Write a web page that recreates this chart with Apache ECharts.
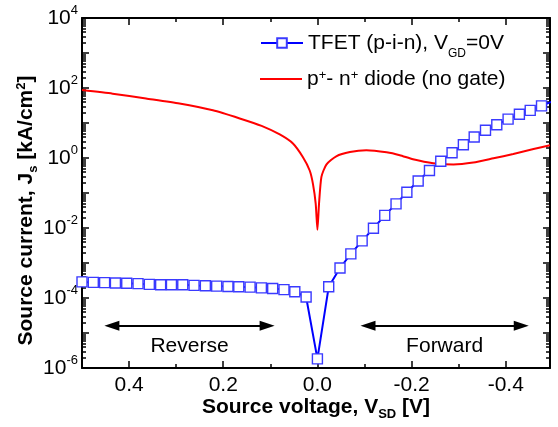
<!DOCTYPE html>
<html><head><meta charset="utf-8">
<script src="https://cdn.jsdelivr.net/npm/echarts@6/dist/echarts.min.js"></script>
<style>html,body{margin:0;padding:0;background:#fff}#c{width:558px;height:427px}</style>
</head><body><div id="c"></div>
<script>
// ---- data ----
const tfetV = [0.5,0.476,0.452,0.429,0.405,0.381,0.357,0.333,0.310,0.286,0.262,0.238,0.214,0.190,0.167,0.143,0.119,0.095,0.071,0.048,0.024,0,
  -0.024,-0.048,-0.071,-0.095,-0.119,-0.143,-0.167,-0.190,-0.214,-0.238,-0.262,-0.286,-0.310,-0.333,-0.357,-0.381,-0.405,-0.429,-0.452,-0.476,-0.5];
const tfetJ = [2.88e-4,2.79e-4,2.75e-4,2.69e-4,2.63e-4,2.57e-4,2.45e-4,2.40e-4,2.40e-4,2.40e-4,2.29e-4,2.24e-4,2.19e-4,2.14e-4,2.09e-4,2.04e-4,1.95e-4,1.86e-4,1.74e-4,1.51e-4,1.07e-4,1.82e-6,
  2.09e-4,7.2e-4,1.82e-3,4.3e-3,9.8e-3,2.3e-2,4.9e-2,0.105,0.22,0.44,0.81,1.41,2.4,4.0,6.2,8.9,12.9,17.8,22.9,30.9,41.7];
const diodeV = [0.5,0.435,0.364,0.293,0.222,0.165,0.1185,0.08,0.052,0.031,0.0164,0.0094,0.0036,0,-0.0034,-0.0085,-0.019,-0.040,-0.069,-0.104,-0.147,-0.175,-0.203,-0.246,-0.289,-0.331,-0.374,-0.416,-0.459,-0.494];
const diodeJ = [87,69,50,36,23,13.5,8.3,4.7,2.6,1.07,0.44,0.18,0.049,0.0089,0.049,0.29,0.65,1.12,1.48,1.66,1.45,1.2,0.92,0.71,0.65,0.74,0.98,1.3,1.8,2.3];
const xLabelTicks = [0.4,0.2,0,-0.2,-0.4];
const xMinorTicks = [0.3,0.1,-0.1,-0.3];
const yLabelExp = [-6,-4,-2,0,2,4];
const yMajorExp = [-6,-5,-4,-3,-2,-1,0,1,2,3,4];
const arrowJ = 1.62e-5;
const reverseArrow = [0.4366, 0.1068];
const forwardArrow = [-0.1074, -0.433];

const yMinorExp = [];
for (let n = -6; n < 4; n++) for (let k = 2; k <= 9; k++) yMinorExp.push(n + Math.log10(k));

const FONT = 'Liberation Sans, Arial, sans-serif';
const BLACK = '#000';

function xAx(pos, ticks, len, showLine, labels) {
  const ax = {
    type: 'value', gridIndex: 0, position: pos, inverse: true, min: -0.494, max: 0.5,
    axisLine: {show: showLine, onZero: false, lineStyle: {color: BLACK, width: 2}},
    axisTick: {show: true, inside: true, length: len, customValues: ticks, lineStyle: {color: BLACK, width: 1.5}},
    axisLabel: labels ? {show: true, customValues: xLabelTicks, formatter: v => Number(v).toFixed(1),
      fontSize: 21, fontFamily: FONT, color: BLACK, margin: 7} : {show: false},
    splitLine: {show: false}, minorTick: {show: false}
  };
  if (labels) {
    ax.name = 'Source voltage, V{sub|SD} [V]';
    ax.nameLocation = 'middle';
    ax.nameGap = 27.5;
    ax.nameMoveOverlap = false;
    ax.nameTextStyle = {fontSize: 21, fontWeight: 'bold', fontFamily: FONT, color: BLACK, lineHeight: 24,
      rich: {sub: {fontSize: 13, fontWeight: 'bold', fontFamily: FONT, color: BLACK, lineHeight: 13, padding: [14, 0, 0, 0]}}};
  }
  return ax;
}
function yAx(pos, ticks, len, showLine, labels) {
  return {
    type: 'value', gridIndex: 0, position: pos, min: -6, max: 4,
    axisLine: {show: showLine, onZero: false, lineStyle: {color: BLACK, width: 2}},
    axisTick: {show: true, inside: true, length: len, customValues: ticks, lineStyle: {color: BLACK, width: 1.5}},
    axisLabel: labels ? {show: true, customValues: yLabelExp,
      formatter: v => '{b|10}{s|' + Math.round(v) + '}',
      margin: 4, color: BLACK,
      rich: {
        b: {fontSize: 21, fontFamily: FONT, color: BLACK, lineHeight: 24},
        s: {fontSize: 13, fontFamily: FONT, color: BLACK, lineHeight: 13, padding: [0, 0, 16, 0]}
      }} : {show: false},
    splitLine: {show: false}, minorTick: {show: false}
  };
}

const option = {
  animation: false,
  backgroundColor: '#fff',
  grid: {left: 82, right: 8, top: 18, bottom: 59, containLabel: false, outerBoundsMode: 'none'},
  xAxis: [
    xAx('bottom', xLabelTicks, 7, true, true),
    xAx('bottom', xMinorTicks, 4, false, false),
    xAx('top', xLabelTicks, 7, true, false),
    xAx('top', xMinorTicks, 4, false, false)
  ],
  yAxis: [
    {type: 'log', logBase: 10, min: 1e-6, max: 1e4, gridIndex: 0, position: 'left', show: false,
      axisLine: {onZero: false}, splitLine: {show: false}},
    yAx('left', yMajorExp, 7, true, true),
    yAx('left', yMinorExp, 4, false, false),
    yAx('right', yMajorExp, 7, true, false),
    yAx('right', yMinorExp, 4, false, false)
  ],
  legend: [
    {data: ['TFET'], left: 255, top: 21, orient: 'vertical', itemWidth: 42, itemHeight: 12,
      selectedMode: false, padding: 5,
      formatter: () => 'TFET (p-i-n), V{sub|GD}=0V',
      textStyle: {fontSize: 21, fontFamily: FONT, color: BLACK, lineHeight: 24,
        rich: {sub: {fontSize: 12, fontFamily: FONT, color: BLACK, lineHeight: 12, padding: [22, 0, 0, 0]}}}},
    {data: [{name: 'diode', icon: 'rect'}], left: 255, top: 62, orient: 'vertical', itemWidth: 42, itemHeight: 2,
      selectedMode: false, padding: 5,
      formatter: () => 'p{sup|+}- n{sup|+} diode (no gate)',
      textStyle: {fontSize: 21, fontFamily: FONT, color: BLACK, lineHeight: 24,
        rich: {sup: {fontSize: 13, fontFamily: FONT, color: BLACK, lineHeight: 13, padding: [0, 0, 8, 0]}}}}
  ],
  graphic: [{
    type: 'text', x: 26, y: 210.5, rotation: Math.PI / 2, silent: true,
    style: {
      text: 'Source current, J{sub|s} [kA/cm{sup|2}]',
      fill: BLACK, fontSize: 21, fontWeight: 'bold', fontFamily: FONT,
      align: 'center', verticalAlign: 'middle', textAlign: 'center', textVerticalAlign: 'middle',
      rich: {
        sub: {fontSize: 13, fontWeight: 'bold', fontFamily: FONT, fill: BLACK, lineHeight: 13, padding: [14, 0, 0, 0]},
        sup: {fontSize: 13, fontWeight: 'bold', fontFamily: FONT, fill: BLACK, lineHeight: 13, padding: [0, 0, 10, 0]}
      }
    }
  }],
  series: [
    {
      name: 'diode', type: 'line', xAxisIndex: 0, yAxisIndex: 0,
      data: diodeV.map((v, i) => [v, diodeJ[i]]),
      showSymbol: false, symbol: 'none', smooth: 0.2,
      lineStyle: {color: '#ff0000', width: 2}, itemStyle: {color: '#ff0000'}, z: 2
    },
    {
      name: 'TFET', type: 'line', xAxisIndex: 0, yAxisIndex: 0,
      data: tfetV.map((v, i) => [v, tfetJ[i]]),
      symbol: 'rect', symbolSize: 10, showAllSymbol: true,
      lineStyle: {color: '#0000ff', width: 2},
      itemStyle: {color: '#ffffff', borderColor: '#3a3aff', borderWidth: 1.4}, z: 3,
      markLine: {
        silent: true, symbol: ['triangle', 'triangle'], symbolSize: [10, 15],
        lineStyle: {color: BLACK, width: 2, type: 'solid'},
        label: {show: true, position: 'insideMiddleBottom', formatter: p => p.name,
          fontSize: 21, fontFamily: FONT, color: BLACK, distance: 10},
        emphasis: {disabled: true},
        data: [
          [{name: 'Reverse', coord: [reverseArrow[0], arrowJ]}, {coord: [reverseArrow[1], arrowJ]}],
          [{name: 'Forward', coord: [forwardArrow[0], arrowJ]}, {coord: [forwardArrow[1], arrowJ]}]
        ]
      }
    }
  ]
};
const chart = echarts.init(document.getElementById('c'), null, {renderer: 'canvas', width: 558, height: 427});
chart.setOption(option);
</script>
</body></html>
